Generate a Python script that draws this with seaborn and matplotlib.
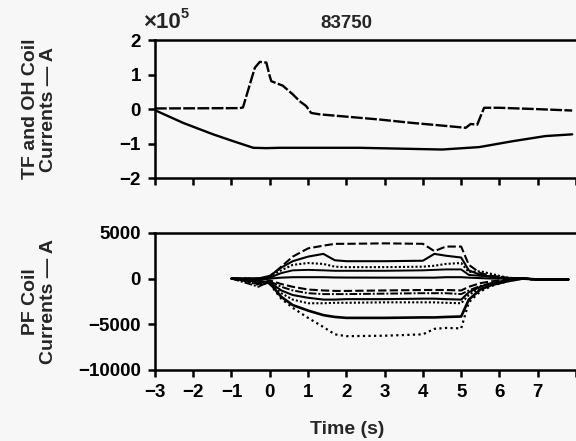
import matplotlib
matplotlib.use("Agg")
import matplotlib.pyplot as plt
import seaborn as sns

# ---------------- data ----------------
shot_label = "83750"
scale_label = "\u00d710"
scale_exp = "5"

# TF coil current (dashed), units of 1e5 A
t_tf = [-3.0, -0.78, -0.70, -0.52, -0.39, -0.26, -0.09, 0.0, 0.04, 0.34, 0.61, 0.78, 0.95,
        1.08, 1.30, 2.34, 2.86, 3.73, 4.34, 5.12, 5.25, 5.42, 5.51, 5.60, 5.99, 7.0, 7.9]
tf_current = [0.02, 0.03, 0.05, 0.72, 1.20, 1.37, 1.35, 0.95, 0.81, 0.68, 0.42, 0.23, 0.09,
              -0.11, -0.15, -0.25, -0.30, -0.40, -0.46, -0.54, -0.43, -0.45, -0.20, 0.04, 0.04, 0.0, -0.04]

# OH coil current (solid), units of 1e5 A
t_oh = [-3.0, -2.26, -1.48, -0.95, -0.43, -0.09, 0.26, 2.34, 4.5, 5.47, 6.34, 7.2, 7.9]
oh_current = [-0.03, -0.40, -0.73, -0.93, -1.12, -1.13, -1.12, -1.12, -1.17, -1.10, -0.93, -0.78, -0.73]

# PF coil currents (A)
t_pf = [-1.0, -0.6, -0.3, 0.0, 0.3, 0.6, 1.0, 1.4, 1.7, 2.0, 3.0, 4.0, 4.3, 4.6,
        5.0, 5.2, 5.5, 5.8, 6.2, 6.6, 7.0, 7.8]
pf_1 = [0, 0, 0, 200, 1300, 2400, 3300, 3600, 3800, 3800, 3850, 3800, 3000, 3500,
        3500, 1500, 600, 300, 100, 0, -100, -100]
pf_2 = [0, 0, 0, 300, 1200, 1900, 2400, 2700, 2000, 1900, 1900, 1950, 2700, 2500,
        2300, 900, 400, 200, 0, 0, -100, -100]
pf_3 = [0, 0, 0, 200, 900, 1500, 1700, 1600, 1300, 1250, 1250, 1300, 1400, 1600,
        1700, 700, 800, 500, 100, 0, -100, -100]
pf_4 = [0, 0, 0, 100, 600, 900, 950, 900, 850, 850, 850, 900, 950, 1000,
        1000, 400, 300, 200, 0, 0, -100, -100]
pf_5 = [0, -100, -200, 0, 100, 150, 150, 150, 120, 110, 100, 100, 100, 150,
        150, 100, 50, 0, 0, 0, -100, -100]
pf_6 = [0, -300, -600, -200, -600, -900, -1200, -1300, -1350, -1350, -1300, -1250, -1250, -1250,
        -1300, -900, -500, -300, -100, 0, -100, -100]
pf_7 = [0, -500, -900, -300, -900, -1300, -1600, -1700, -1700, -1700, -1650, -1600, -1600, -1600,
        -1700, -1300, -800, -500, -200, 0, -100, -100]
pf_8 = [0, -200, -400, -400, -1300, -1800, -2100, -2300, -2300, -2250, -2250, -2200, -2200, -2250,
        -2300, -1500, -900, -500, -200, 0, -100, -100]
pf_9 = [0, -300, -700, -500, -1600, -2300, -2700, -2700, -2650, -2650, -2600, -2600, -2600, -2650,
        -2700, -1800, -1000, -600, -200, 0, -100, -100]
pf_10 = [0, -100, -300, -500, -2000, -2900, -3500, -4000, -4200, -4300, -4300, -4250, -4250, -4200,
         -4150, -2300, -1200, -700, -300, 0, -100, -100]
pf_11 = [0, -100, -300, -600, -2200, -3200, -4300, -5300, -6100, -6300, -6250, -6100, -5500, -5400,
         -5450, -2600, -1400, -800, -300, 0, -100, -100]
pf_series = [pf_1, pf_2, pf_3, pf_4, pf_5, pf_6, pf_7, pf_8, pf_9, pf_10, pf_11]

x_ticks = [-3, -2, -1, 0, 1, 2, 3, 4, 5, 6, 7, 8]
x_tick_labels = ["\u22123", "\u22122", "\u22121", "0", "1", "2", "3", "4", "5", "6", "7", ""]
top_y_ticks = [-2, -1, 0, 1, 2]
top_y_labels = ["\u22122", "\u22121", "0", "1", "2"]
bot_y_ticks = [-10000, -5000, 0, 5000]
bot_y_labels = ["\u221210000", "\u22125000", "0", "5000"]

# ---------------- style ----------------
bg = "#f7f7f7"
sns.set_style("ticks")
plt.rcParams["font.family"] = ["Liberation Sans", "DejaVu Sans"]
plt.rcParams["font.weight"] = "bold"
plt.rcParams["axes.labelweight"] = "bold"

fs_tick = 13.5
fs_lab = 14
fig = plt.figure(figsize=(5.76, 4.41), dpi=100, facecolor=bg)
ax1 = fig.add_axes([0.269, 0.596, 0.731, 0.313], facecolor=bg)
ax2 = fig.add_axes([0.269, 0.161, 0.731, 0.311], facecolor=bg)

lw = 1.7
sns.lineplot(x=t_tf, y=tf_current, ax=ax1, color="black", linewidth=lw,
             linestyle=(0, (5, 1)), sort=False, errorbar=None)
sns.lineplot(x=t_oh, y=oh_current, ax=ax1, color="black", linewidth=lw,
             sort=False, errorbar=None)

styles = [(0, (4, 1.5)), "-", (0, (1, 1)), "-", "-", (0, (4, 1.5)), (0, (4, 1, 1, 1)),
          "-", (0, (1, 1)), "-", (0, (1, 1.5))]
widths = [1.5, 1.5, 1.5, 1.4, 1.5, 1.5, 1.4, 1.5, 1.5, 1.9, 1.6]
for vals, ls, w in zip(pf_series, styles, widths):
    sns.lineplot(x=t_pf, y=vals, ax=ax2, color="black", linewidth=w,
                 linestyle=ls, sort=False, errorbar=None)

for ax in (ax1, ax2):
    ax.set_xlim(-3, 8)
    ax.set_xticks(x_ticks)
    for s in ("left", "bottom", "top"):
        ax.spines[s].set_visible(True)
        ax.spines[s].set_linewidth(1.8)
        ax.spines[s].set_color("black")
    ax.spines["right"].set_visible(False)
    ax.tick_params(axis="both", direction="out", length=5, width=1.8,
                   colors="black", labelsize=fs_tick, pad=5)

ax1.set_ylim(-2, 2)
ax1.set_yticks(top_y_ticks)
ax1.set_yticklabels(top_y_labels, fontweight="bold")
ax1.set_xticklabels([])
ax2.set_ylim(-10000, 5000)
ax2.set_yticks(bot_y_ticks)
ax2.set_yticklabels(bot_y_labels, fontweight="bold")
ax2.set_xticklabels(x_tick_labels, fontweight="bold")

ax1.set_ylabel("TF and OH Coil\nCurrents \u2014 A", fontsize=fs_lab, fontweight="bold", linespacing=1.1)
ax1.yaxis.set_label_coords(-0.233, 0.5)
ax2.set_ylabel("PF Coil\nCurrents \u2014 A", fontsize=fs_lab, fontweight="bold", linespacing=1.1)
ax2.yaxis.set_label_coords(-0.233, 0.5)
ax2.set_xlabel("Time (s)", fontsize=fs_lab, fontweight="bold")
ax2.xaxis.set_label_coords(0.456, -0.37)

fig.text(346 / 576, 1 - 23 / 441, shot_label, fontsize=fs_tick, fontweight="bold",
         ha="center", va="center")
fig.text(143 / 576, 1 - 28.5 / 441, scale_label, fontsize=16, fontweight="bold",
         ha="left", va="baseline")
fig.text(181 / 576, 1 - 18 / 441, scale_exp, fontsize=10.5, fontweight="bold",
         ha="left", va="baseline")

fig.savefig("out.png", dpi=100, facecolor=bg)
